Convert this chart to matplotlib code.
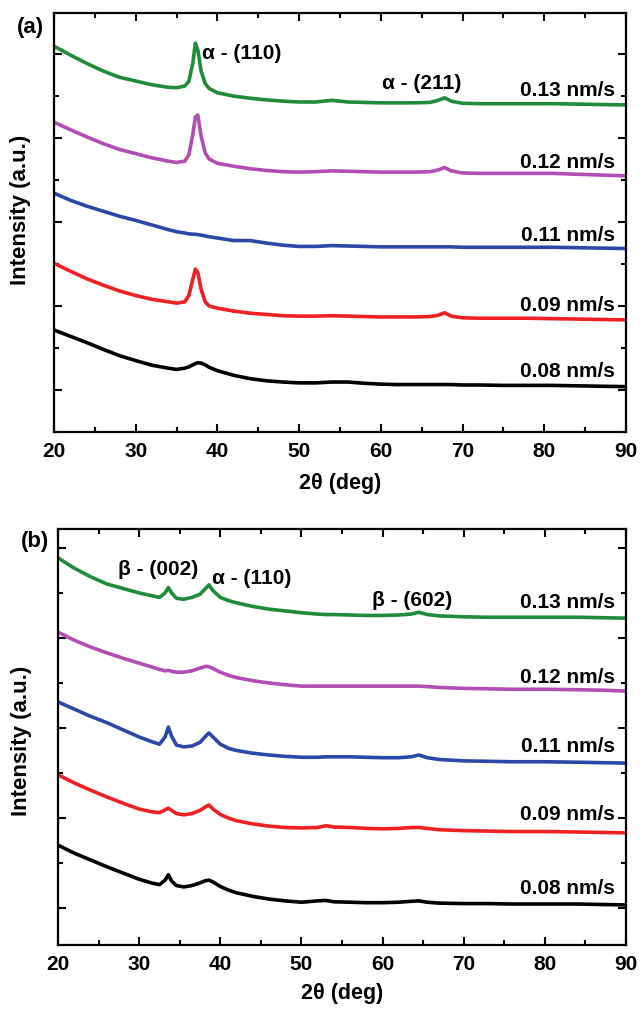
import matplotlib
matplotlib.use("Agg")
import matplotlib.pyplot as plt
from matplotlib.ticker import MultipleLocator

plt.rcParams['font.family'] = ['Liberation Sans', 'DejaVu Sans']
plt.rcParams['font.weight'] = 'bold'

# ---------------- data: panel (a) ----------------
xa = [20, 22, 24, 26, 28, 30, 32, 34, 35, 36, 36.5, 37, 37.3, 37.6, 38, 38.5, 39, 40,
      42, 44, 46, 48, 50, 52, 54, 56, 58, 60, 62, 64, 66, 67, 67.8, 68.6, 70, 72, 75,
      78, 81, 84, 87, 90]
a_013 = [8.19, 7.98, 7.78, 7.6, 7.45, 7.36, 7.27, 7.21, 7.2, 7.24, 7.35, 7.8, 8.26, 8.1,
         7.6, 7.3, 7.18, 7.08, 7.0, 6.95, 6.91, 6.88, 6.86, 6.86, 6.9, 6.86, 6.85, 6.84,
         6.84, 6.84, 6.85, 6.9, 6.96, 6.88, 6.83, 6.82, 6.82, 6.82, 6.82, 6.81, 6.8, 6.79]
a_012 = [6.38, 6.2, 6.03, 5.87, 5.73, 5.63, 5.53, 5.45, 5.42, 5.45, 5.6, 6.1, 6.5, 6.55,
         6.05, 5.65, 5.5, 5.4, 5.33, 5.27, 5.23, 5.2, 5.19, 5.2, 5.22, 5.21, 5.2, 5.19,
         5.19, 5.19, 5.2, 5.24, 5.3, 5.22, 5.17, 5.16, 5.16, 5.16, 5.16, 5.14, 5.12, 5.1]
a_011 = [4.69, 4.52, 4.38, 4.26, 4.14, 4.04, 3.93, 3.82, 3.77, 3.74, 3.72, 3.71, 3.71, 3.7,
         3.69, 3.67, 3.65, 3.62, 3.56, 3.56, 3.5, 3.45, 3.42, 3.42, 3.44, 3.43, 3.42, 3.41,
         3.41, 3.41, 3.41, 3.41, 3.41, 3.41, 3.4, 3.4, 3.4, 3.4, 3.4, 3.39, 3.38, 3.37]
a_009 = [3.02, 2.83, 2.65, 2.5, 2.36, 2.25, 2.16, 2.1, 2.07, 2.1, 2.25, 2.65, 2.88, 2.8,
         2.4, 2.1, 2.0, 1.95, 1.88, 1.83, 1.8, 1.77, 1.76, 1.76, 1.77, 1.76, 1.75, 1.74,
         1.74, 1.74, 1.75, 1.78, 1.84, 1.76, 1.72, 1.71, 1.71, 1.71, 1.7, 1.69, 1.68, 1.67]
a_008 = [1.43, 1.28, 1.13, 0.97, 0.82, 0.7, 0.59, 0.52, 0.49, 0.52, 0.55, 0.6, 0.63, 0.65,
         0.64, 0.6, 0.54, 0.46, 0.35, 0.27, 0.22, 0.19, 0.17, 0.17, 0.19, 0.19, 0.16, 0.14,
         0.13, 0.13, 0.13, 0.13, 0.13, 0.13, 0.12, 0.12, 0.11, 0.11, 0.11, 0.1, 0.09, 0.08]

# ---------------- data: panel (b) ----------------
xb = [20, 22, 24, 26, 28, 30, 31.5, 32.5, 33.2, 33.6, 34.0, 34.6, 35.5, 36.5, 37.5, 38.2,
      38.6, 39.1, 40, 41, 42, 44, 46, 48, 50, 52, 53, 54, 56, 58, 60, 62, 63.5, 64.5,
      65.5, 67, 70, 73, 76, 80, 84, 87, 90]
b_013 = [7.78, 7.55, 7.36, 7.2, 7.1, 7.0, 6.94, 6.9, 7.0, 7.12, 7.0, 6.88, 6.86, 6.9, 6.97,
         7.1, 7.18, 7.05, 6.9, 6.83, 6.78, 6.7, 6.64, 6.6, 6.56, 6.53, 6.52, 6.52, 6.51,
         6.5, 6.5, 6.51, 6.53, 6.57, 6.52, 6.49, 6.47, 6.46, 6.46, 6.46, 6.46, 6.45, 6.44]
b_012 = [6.13, 5.95, 5.8, 5.67, 5.55, 5.44, 5.36, 5.3, 5.27, 5.28, 5.26, 5.24, 5.24, 5.27,
         5.33, 5.37, 5.36, 5.32, 5.24, 5.17, 5.12, 5.05, 5.0, 4.96, 4.93, 4.93, 4.93, 4.93,
         4.93, 4.93, 4.93, 4.93, 4.93, 4.93, 4.92, 4.9, 4.88, 4.87, 4.86, 4.86, 4.85, 4.84, 4.82]
b_011 = [4.58, 4.42, 4.26, 4.12, 3.96, 3.8, 3.7, 3.64, 3.8, 4.02, 3.82, 3.62, 3.58, 3.6,
         3.68, 3.82, 3.89, 3.8, 3.64, 3.55, 3.5, 3.44, 3.4, 3.37, 3.35, 3.35, 3.36, 3.36,
         3.36, 3.35, 3.34, 3.34, 3.36, 3.4, 3.34, 3.3, 3.27, 3.26, 3.25, 3.25, 3.24, 3.23, 3.22]
b_009 = [2.96, 2.78, 2.62, 2.47, 2.33, 2.2, 2.14, 2.12, 2.18, 2.22, 2.17, 2.1, 2.07, 2.1,
         2.17, 2.25, 2.29, 2.2, 2.08, 2.0, 1.94, 1.87, 1.82, 1.79, 1.78, 1.79, 1.83, 1.8,
         1.79, 1.77, 1.76, 1.77, 1.79, 1.79, 1.77, 1.74, 1.72, 1.71, 1.7, 1.7, 1.69, 1.68, 1.67]
b_008 = [1.4, 1.22, 1.07, 0.92, 0.78, 0.64, 0.56, 0.52, 0.62, 0.74, 0.6, 0.5, 0.47, 0.5,
         0.56, 0.61, 0.62, 0.58, 0.48, 0.4, 0.34, 0.26, 0.2, 0.16, 0.13, 0.16, 0.17, 0.14,
         0.13, 0.12, 0.12, 0.13, 0.15, 0.16, 0.13, 0.11, 0.1, 0.1, 0.09, 0.09, 0.09, 0.08, 0.07]

rate_labels = ['0.13 nm/s', '0.12 nm/s', '0.11 nm/s', '0.09 nm/s', '0.08 nm/s']
colors = ['#1f8b3b', '#b24db3', '#2b48a8', '#ee2024', '#000000']
label_y_a = [7.14, 5.43, 3.69, 2.02, 0.43]
label_y_b = [6.78, 5.13, 3.58, 2.07, 0.44]

series_a = [a_013, a_012, a_011, a_009, a_008]
series_b = [b_013, b_012, b_011, b_009, b_008]

W, H = 640, 1011
fig = plt.figure(figsize=(W / 100, H / 100), dpi=100)
ax_a = fig.add_axes([54 / W, 1 - 432 / H, 572 / W, 419 / H])
ax_b = fig.add_axes([58 / W, 1 - 945 / H, 568 / W, 416 / H])


def style(ax, ylim, xlpad):
    ax.set_xlim(20, 90)
    ax.set_ylim(*ylim)
    ax.xaxis.set_major_locator(MultipleLocator(10))
    ax.xaxis.set_minor_locator(MultipleLocator(5))
    ax.yaxis.set_major_locator(MultipleLocator(2))
    ax.yaxis.set_minor_locator(MultipleLocator(1))
    ax.tick_params(which='both', direction='in', top=True, right=True, width=1.5)
    ax.tick_params(which='major', length=6)
    ax.tick_params(which='minor', length=3.5)
    ax.tick_params(axis='x', labelsize=15, pad=7)
    ax.tick_params(axis='y', labelleft=False)
    for lab in ax.get_xticklabels():
        lab.set_fontweight('bold')
    for sp in ax.spines.values():
        sp.set_linewidth(1.6)
    ax.set_xlabel('2\u03b8 (deg)', fontsize=15.5, fontweight='bold', labelpad=xlpad)
    ax.set_ylabel('Intensity (a.u.)', fontsize=16, fontweight='bold')


for ax, x, series, ly, ylim, xlpad in [(ax_a, xa, series_a, label_y_a, (-1.0, 8.98), 9),
                                       (ax_b, xb, series_b, label_y_b, (-0.82, 8.42), 7)]:
    for y, c, lab, yy in zip(series, colors, rate_labels, ly):
        ax.plot(x, y, color=c, lw=2.6, solid_joinstyle='round')
        ax.text(88.6, yy, lab, ha='right', va='center', fontsize=15, fontweight='bold')
    style(ax, ylim, xlpad)

# y-label placement (axes fraction)
ax_a.yaxis.set_label_coords(-0.040, 0.53)
ax_b.yaxis.set_label_coords(-0.046, 0.49)

ax_a.text(38.1, 8.02, '\u03b1 - (110)', fontsize=15, fontweight='bold', va='center')
ax_a.text(60.1, 7.3, '\u03b1 - (211)', fontsize=15, fontweight='bold', va='center')
ax_b.text(27.4, 7.51, '\u03b2 - (002)', fontsize=15, fontweight='bold', va='center')
ax_b.text(39.0, 7.33, '\u03b1 - (110)', fontsize=15, fontweight='bold', va='center')
ax_b.text(58.7, 6.84, '\u03b2 - (602)', fontsize=15, fontweight='bold', va='center')

fig.text(30 / W, 1 - 27 / H, '(a)', fontsize=16, fontweight='bold', ha='center', va='center')
fig.text(35 / W, 1 - 542 / H, '(b)', fontsize=16, fontweight='bold', ha='center', va='center')

fig.savefig('out.png', dpi=100)
